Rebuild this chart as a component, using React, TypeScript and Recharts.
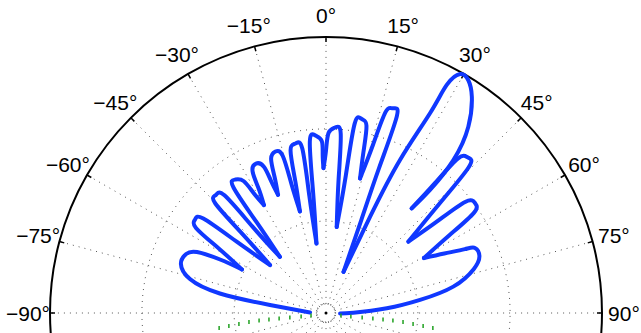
import { ComposedChart, Line, Scatter, XAxis, YAxis } from 'recharts';

const W = 641;
const H = 333;
const CX = 326;
const CY = 313;
const R = 276;

// grid
const spokeAngles = [-165, -150, -135, -120, -105, -90, -75, -60, -45, -30, -15, 0, 15, 30, 45, 60, 75, 90, 105, 120, 135, 150, 165, 180];
const ringRadii = [0.033, 0.333, 0.667];
const tickAngles = [-90, -75, -60, -45, -30, -15, 0, 15, 30, 45, 60, 75, 90];
const tickLabels = ['−90°', '−75°', '−60°', '−45°', '−30°', '−15°', '0°', '15°', '30°', '45°', '60°', '75°', '90°'];

// blue pattern (deg, radius / outer radius), one row per lobe
const patternAngles = [
  -88.2, -81.9, -79.6, -76.0, -71.3, -67.1, -64.7, -63.2, -62.6,
  -59.0, -56.8, -54.5, -52.4, -51.4, -49.4,
  -46.6, -45.3, -43.0, -40.8, -40.4, -39.4,
  -37.4, -36.4, -34.3, -32.0, -31.1, -29.9,
  -28.4, -27.4, -25.1, -23.0, -22.6, -22.1,
  -20.7, -19.6, -17.4, -15.4, -15.0, -14.4,
  -13.1, -12.3, -10.2, -8.2, -8.1, -7.8,
  -6.1, -5.4, -3.4, -1.4, -1.2, -1.0,
  0.0, 0.8, 2.8, 4.7, 5.4, 7.1,
  8.2, 8.6, 10.4, 12.2, 13.1, 14.2,
  15.6, 16.5, 18.1, 19.8, 20.1, 20.8, 23.1,
  24.6, 25.8, 27.5, 27.9, 29.3, 31.4, 34.0, 37.4, 39.8, 40.2, 39.3,
  40.0, 40.5, 42.4, 44.4, 46.1, 49.1,
  50.5, 51.4, 53.6, 55.9, 57.8, 60.7,
  63.3, 65.3, 66.4, 69.6, 73.4, 78.3, 82.1, 85.6, 89.4, 92.0,
];
const patternRadii = [
  0.058, 0.205, 0.391, 0.508, 0.555, 0.55, 0.517, 0.43, 0.343,
  0.452, 0.563, 0.583, 0.561, 0.414, 0.267,
  0.415, 0.564, 0.585, 0.563, 0.412, 0.263,
  0.413, 0.564, 0.585, 0.564, 0.508, 0.451,
  0.514, 0.578, 0.598, 0.576, 0.519, 0.462,
  0.527, 0.593, 0.613, 0.591, 0.485, 0.38,
  0.491, 0.603, 0.624, 0.602, 0.428, 0.254,
  0.438, 0.623, 0.644, 0.623, 0.574, 0.525,
  0.589, 0.652, 0.673, 0.651, 0.482, 0.314,
  0.503, 0.693, 0.715, 0.694, 0.598, 0.503,
  0.631, 0.759, 0.78, 0.758, 0.559, 0.36, 0.162,
  0.384, 0.616, 0.816, 0.935, 0.993, 0.989, 0.945, 0.849, 0.721, 0.584, 0.49,
  0.614, 0.737, 0.763, 0.739, 0.566, 0.395,
  0.52, 0.645, 0.671, 0.647, 0.527, 0.407,
  0.48, 0.554, 0.589, 0.593, 0.559, 0.471, 0.344, 0.221, 0.099, 0.051,
];
// indices of the nulls between lobes
const nullIndex = [8, 14, 20, 26, 32, 38, 44, 50, 56, 62, 69, 80, 86, 92];

// green dashed trace below the horizon
const greenAngles = [
  -99.5, -98.0, -97.1, -96.7, -96.5, -96.4, -96.7, -97.2, -97.6, -98.0,
  99.5, 98.0, 97.1, 96.7, 96.5, 96.4, 96.7, 97.2, 97.6, 98.0,
];
const greenRadii = [
  0.055, 0.091, 0.132, 0.171, 0.208, 0.244, 0.281, 0.318, 0.355, 0.391,
  0.055, 0.091, 0.132, 0.171, 0.208, 0.244, 0.281, 0.318, 0.355, 0.391,
];

const toPoint = (deg: number, r: number) => {
  const a = (deg * Math.PI) / 180;
  return { x: r * Math.sin(a), y: r * Math.cos(a) };
};

const circleAngles = [-180, ...spokeAngles];
const circle = (r: number) => circleAngles.map((a) => toPoint(a, r));

const breaks = [0, ...nullIndex, patternAngles.length - 1];
const lobes = breaks.slice(0, -1).map((start, i) =>
  patternAngles.slice(start, breaks[i + 1] + 1).map((a, j) => toPoint(a, patternRadii[start + j]))
);

const labelData = tickAngles.map((a, i) => ({ ...toPoint(a, 298 / R), label: tickLabels[i] }));
const greenData = greenAngles.map((a, i) => toPoint(a, greenRadii[i]));

const FONT = "'Liberation Sans', Arial, Helvetica, sans-serif";

export default function App() {
  return (
    <div style={{ position: 'absolute', left: 0, top: 0, width: W, height: H, background: '#fff' }}>
      <ComposedChart width={W} height={H} margin={{ top: 0, right: 0, bottom: 0, left: 0 }}>
        <XAxis type="number" dataKey="x" domain={[-CX / R, (W - CX) / R]} hide allowDataOverflow />
        <YAxis type="number" dataKey="y" domain={[-(H - CY) / R, CY / R]} hide allowDataOverflow />

        {spokeAngles.map((a) => (
          <Line
            key={`spoke-${a}`}
            data={[toPoint(a, ringRadii[0]), toPoint(a, 1)]}
            dataKey="y"
            type="linear"
            stroke="#555"
            strokeWidth={1}
            strokeDasharray="1 5"
            dot={false}
            activeDot={false}
            isAnimationActive={false}
          />
        ))}
        {ringRadii.map((r, i) => (
          <Line
            key={`ring-${r}`}
            data={circle(r)}
            dataKey="y"
            type="natural"
            stroke="#555"
            strokeWidth={1}
            strokeDasharray={i === 0 ? '1 2' : '1 5'}
            dot={false}
            activeDot={false}
            isAnimationActive={false}
          />
        ))}
        <Line
          data={circle(1)}
          dataKey="y"
          type="natural"
          stroke="#000"
          strokeWidth={2}
          dot={false}
          activeDot={false}
          isAnimationActive={false}
        />
        {tickAngles.map((a) => (
          <Line
            key={`tick-${a}`}
            data={[toPoint(a, 1), toPoint(a, 1 - 5 / R)]}
            dataKey="y"
            type="linear"
            stroke="#000"
            strokeWidth={1.5}
            dot={false}
            activeDot={false}
            isAnimationActive={false}
          />
        ))}

        <Scatter
          data={greenData}
          dataKey="y"
          isAnimationActive={false}
          shape={(p: any) => (
            <line x1={p.cx} y1={p.cy - 2} x2={p.cx} y2={p.cy + 2} stroke="#1fa01f" strokeWidth={1.5} />
          )}
        />

        {lobes.map((pts, i) => (
          <Line
            key={`lobe-${i}`}
            data={pts}
            dataKey="y"
            type="natural"
            stroke="#1038ff"
            strokeWidth={4}
            strokeLinecap="round"
            strokeLinejoin="round"
            dot={false}
            activeDot={false}
            isAnimationActive={false}
          />
        ))}

        <Scatter
          data={[{ x: 0, y: 0 }]}
          dataKey="y"
          isAnimationActive={false}
          shape={(p: any) => <circle cx={p.cx} cy={p.cy} r={1.5} fill="#000" />}
        />
        <Scatter
          data={labelData}
          dataKey="y"
          isAnimationActive={false}
          shape={(p: any) => (
            <text
              x={p.cx}
              y={p.cy}
              textAnchor="middle"
              dominantBaseline="central"
              fontSize={21}
              fontFamily={FONT}
              fill="#000"
            >
              {p.payload.label}
            </text>
          )}
        />
      </ComposedChart>
    </div>
  );
}
